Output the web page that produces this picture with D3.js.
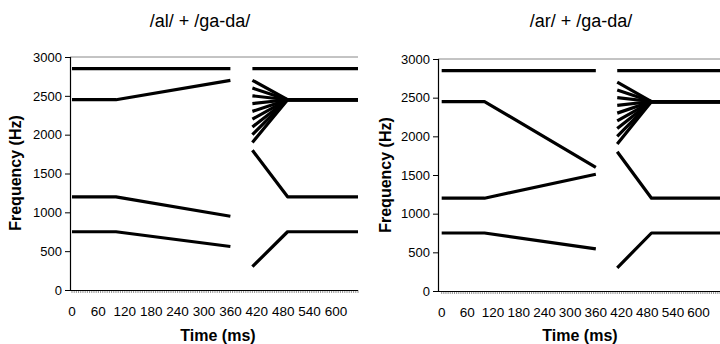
<!DOCTYPE html>
<html><head><meta charset="utf-8">
<script src="https://cdn.jsdelivr.net/npm/d3@7"></script>
<style>
body{margin:0;background:#fff;}
svg{display:block;font-family:"Liberation Sans",Arial,sans-serif;}
</style></head>
<body><svg id="c" width="720" height="344"></svg>
<script>
// ---- data ----
const timeTicks = [0,60,120,180,240,300,360,420,480,540,600];
const freqTicks = [0,500,1000,1500,2000,2500,3000];
const precursorTimes = [0,100,360];
const alF1 = [750,750,560];
const alF2 = [1200,1200,950];
const alF3 = [2450,2450,2700];
const alF4 = [2850,2850,2850];
const arF1 = [750,750,545];
const arF2 = [1200,1200,1510];
const arF3 = [2450,2450,1600];
const arF4 = [2850,2850,2850];
const targetTimes = [410,490,650];
const gadaF1 = [300,750,750];
const gadaF2 = [1800,1200,1200];
const gadaF3Onsets = [1900,2000,2100,2200,2300,2400,2500,2600,2700];
const gadaF3Target = 2450;
const gadaF4 = [2850,2850,2850];
const titles = ["/al/ + /ga-da/","/ar/ + /ga-da/"];

const svg = d3.select("#c");

function panel(cfg){
  const g = svg.append("g");
  const x = d3.scaleLinear().domain(cfg.xDom).range(cfg.xRange);
  const y = d3.scaleLinear().domain([0,3000]).range(cfg.yRange);
  const [x0,x1] = cfg.xRange, [yb,yt] = cfg.yRange;

  // top border
  g.append("line").attr("x1",x0).attr("x2",x1).attr("y1",yt).attr("y2",yt)
    .attr("stroke","#888").attr("stroke-width",1);

  // minor x ticks
  const minor = d3.range(0,651,5);
  g.selectAll("line.mt").data(minor).join("line")
    .attr("x1",d=>x(d)).attr("x2",d=>x(d)).attr("y1",yb).attr("y2",yb+3)
    .attr("stroke","#666").attr("stroke-width",0.7);

  // x axis line
  g.append("line").attr("x1",x0).attr("x2",x1).attr("y1",yb+0.5).attr("y2",yb+0.5)
    .attr("stroke","#000").attr("stroke-width",1.2);
  // x tick labels
  g.selectAll("text.xt").data(timeTicks).join("text")
    .attr("x",d=>x(d)).attr("y",yb+26).attr("text-anchor","middle")
    .attr("font-size",13.5).attr("fill","#000").text(d=>d);

  // y axis
  const ya = d3.axisLeft(y).tickValues(freqTicks).tickFormat(d3.format("d"))
    .tickSize(5).tickPadding(3);
  const yg = g.append("g").attr("transform",`translate(${x0},0)`).call(ya);
  yg.select(".domain").attr("stroke","#000").attr("stroke-width",1.2);
  yg.selectAll(".tick line").attr("stroke","#000");
  yg.selectAll(".tick text").attr("font-size",13).attr("fill","#000")
    .attr("font-family","Liberation Sans, Arial, sans-serif");

  // lines
  const clipId = "clip"+cfg.id;
  svg.append("clipPath").attr("id",clipId).append("rect")
    .attr("x",x0).attr("y",yt-5).attr("width",x1-x0).attr("height",yb-yt+10);
  const lg = g.append("g").attr("clip-path",`url(#${clipId})`);
  const line = d3.line().x(d=>x(d[0])).y(d=>y(d[1]));
  const series = [];
  [cfg.f1,cfg.f2,cfg.f3,cfg.f4].forEach(f=>series.push(precursorTimes.map((t,i)=>[t,f[i]])));
  series.push(targetTimes.map((t,i)=>[t,gadaF1[i]]));
  series.push(targetTimes.map((t,i)=>[t,gadaF2[i]]));
  series.push(targetTimes.map((t,i)=>[t,gadaF4[i]]));
  gadaF3Onsets.forEach(o=>series.push([[targetTimes[0],o],[targetTimes[1],gadaF3Target],[targetTimes[2],gadaF3Target]]));
  lg.selectAll("path").data(series).join("path")
    .attr("d",line).attr("fill","none").attr("stroke","#000")
    .attr("stroke-width",3.2).attr("stroke-linejoin","round");

  // titles
  svg.append("text").attr("x",cfg.titleX).attr("y",27).attr("text-anchor","middle")
    .attr("font-size",18).attr("fill","#000").text(cfg.title);
  svg.append("text").attr("transform",`translate(${cfg.yTitleX},${cfg.yTitleY}) rotate(-90)`)
    .attr("text-anchor","middle").attr("font-size",16).attr("font-weight","bold")
    .attr("fill","#000").text("Frequency (Hz)");
  svg.append("text").attr("x",cfg.xTitleX).attr("y",341).attr("text-anchor","middle")
    .attr("font-size",16).attr("font-weight","bold").attr("fill","#000").text("Time (ms)");
}

panel({id:"L", xDom:[-4.5,650], xRange:[70,358], yRange:[290,57],
  f1:alF1,f2:alF2,f3:alF3,f4:alF4, title:titles[0], titleX:200,
  yTitleX:21, yTitleY:173, xTitleX:218});
panel({id:"R", xDom:[-8.6,650], xRange:[438,720], yRange:[291,59],
  f1:arF1,f2:arF2,f3:arF3,f4:arF4, title:titles[1], titleX:581,
  yTitleX:391, yTitleY:175, xTitleX:580});
</script></body></html>
